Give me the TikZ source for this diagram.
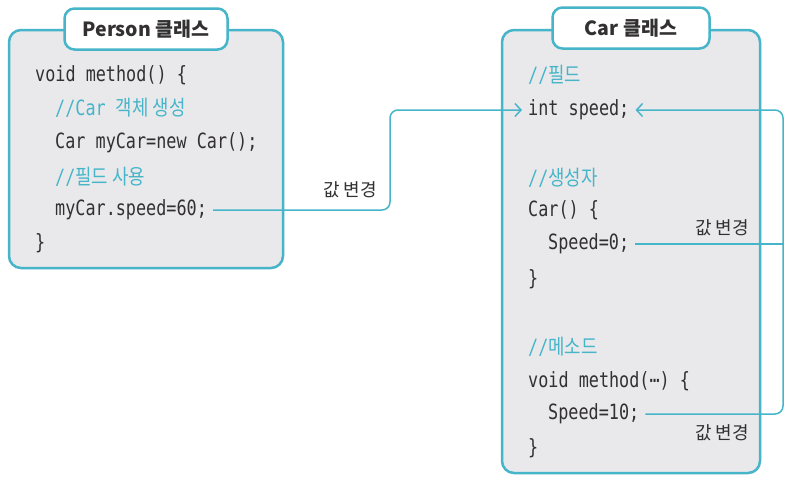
\documentclass[tikz,border=0pt]{standalone}
\usepackage{fontspec}
\usepackage{xcolor}
\usetikzlibrary{arrows.meta}
\setmainfont{Noto Sans CJK KR}
\newfontfamily\codefont{DejaVu Sans Mono}[FakeStretch=0.8]
\newfontfamily\krfont{Noto Sans CJK KR}[FakeStretch=0.85]
\newcommand{\kr}[1]{{\krfont #1}}
\definecolor{boxteal}{RGB}{70,181,201}
\definecolor{boxgray}{RGB}{233,233,235}
\definecolor{codetext}{RGB}{50,48,48}

\begin{document}
\begin{tikzpicture}[x=1pt,y=-1pt,
    classbox/.style={draw=boxteal, fill=boxgray, line width=2.5pt, rounded corners=12pt},
    tabbox/.style={draw=boxteal, fill=white, line width=2.5pt, rounded corners=10pt,
        minimum height=41pt, text=codetext, font=\bfseries\fontsize{19.5}{21}\selectfont},
    code/.style={anchor=west, inner xsep=6pt, inner ysep=2pt, text=codetext,
        font=\codefont\fontsize{21}{23}\selectfont},
    comment/.style={code, text=boxteal},
    change/.style={text=codetext, font=\fontsize{18}{20}\selectfont},
    link/.style={draw=boxteal, line width=1.5pt, rounded corners=8pt},
    tip/.style={-{Straight Barb[length=6pt, width=13pt]}}]
    \useasboundingbox (0,0) rectangle (792,483);
    \fill[white] (0,0) rectangle (792,483);

    % Person class
    \draw[classbox] (9,30) rectangle (283,268);
    \node[tabbox, minimum width=163pt] (ptitle) at (146,29) {Person 클래스};
    \node[code] (pmethod) at (29,75) {void method() \{};
    \node[comment] (pnote1) at (49,108) {//Car \kr{객체 생성}};
    \node[code] (pnew) at (49,143) {Car myCar=new Car();};
    \node[comment] (pnote2) at (49,177) {//\kr{필드 사용}};
    \node[code] (pset) at (49,210) {myCar.speed=60;};
    \node[code] (pend) at (29,243) {\}};

    % Car class
    \draw[classbox] (502,30) rectangle (760,473);
    \node[tabbox, minimum width=157pt] (ctitle) at (631,28) {Car 클래스};
    \node[comment] (cnote1) at (522,75) {//\kr{필드}};
    \node[code] (cspeed) at (522,110) {int speed;};
    \node[comment] (cnote2) at (522,178) {//\kr{생성자}};
    \node[code] (cctor) at (522,210) {Car() \{};
    \node[code] (cset0) at (542,244) {Speed=0;};
    \node[code] (cctorend) at (522,279) {\}};
    \node[comment] (cnote3) at (522,347) {//\kr{메소드}};
    \node[code] (cmethod) at (522,381) {void method(⋯) \{};
    \node[code] (cset10) at (542,414) {Speed=10;};
    \node[code] (cmethodend) at (522,448) {\}};

    \coordinate (lbend) at (390,110);
    \coordinate (rtop) at (783,110);

    \draw[link, tip] (pset.east) -| (lbend) -- (cspeed.west);
    \draw[link] (cset0.east) -- (cset0.east -| rtop);
    \draw[link, tip] (cset10.east) -| (rtop) -- (cspeed.east);

    \node[change] (lchange) at (350,190) {값 변경};
    \node[change] (cchange1) at (722,228) {값 변경};
    \node[change] (cchange2) at (722,433) {값 변경};
\end{tikzpicture}
\end{document}
